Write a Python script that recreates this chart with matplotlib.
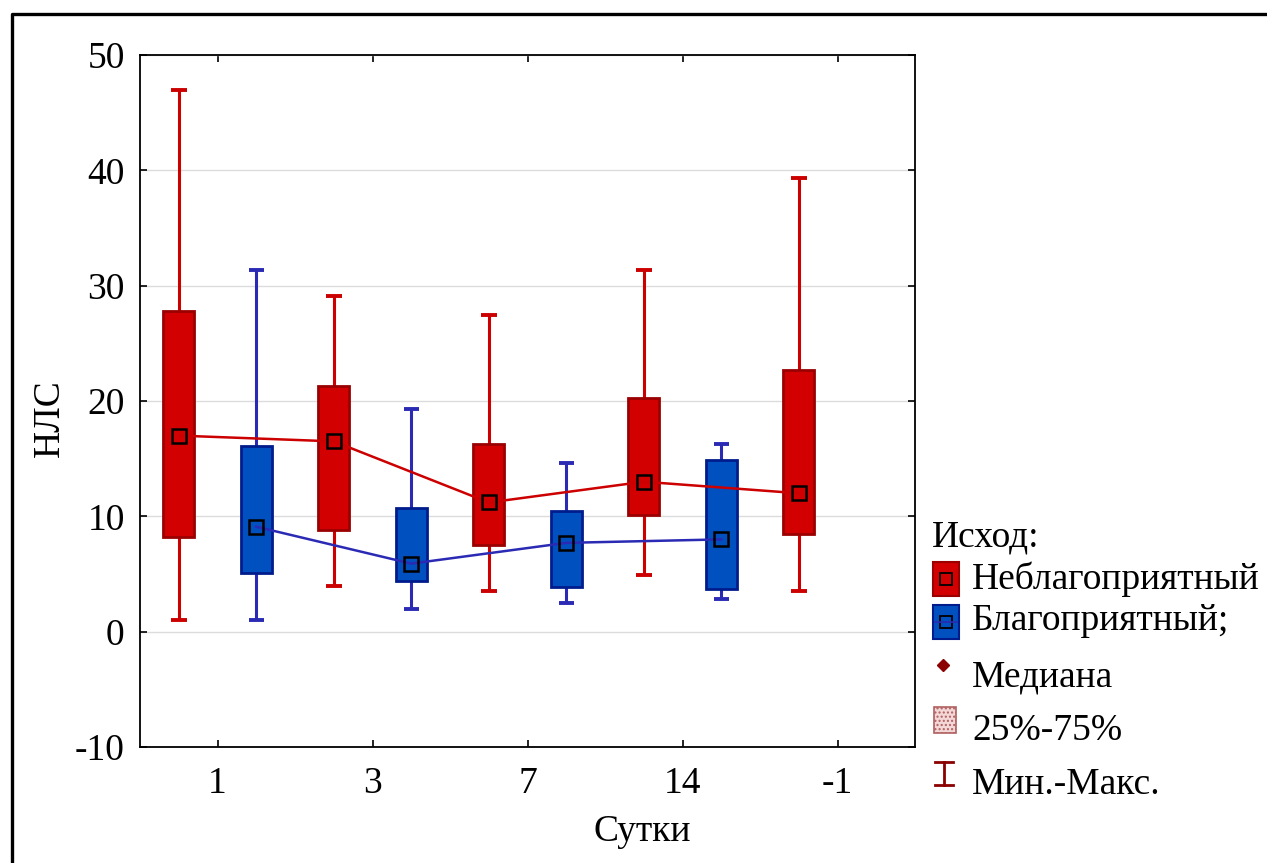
import matplotlib.pyplot as plt
from matplotlib.patches import Rectangle
from matplotlib.lines import Line2D
import numpy as np

plt.rcParams["font.family"] = ["Liberation Serif", "DejaVu Serif"]
plt.rcParams["axes.unicode_minus"] = False

days = ["1", "3", "7", "14", "-1"]

# Неблагоприятный (red)
bad_min = [1.0, 4.0, 3.5, 4.9, 3.5]
bad_q1 = [8.2, 8.8, 7.5, 10.1, 8.5]
bad_med = [17.0, 16.5, 11.2, 13.0, 12.0]
bad_q3 = [27.8, 21.3, 16.3, 20.3, 22.7]
bad_max = [47.0, 29.1, 27.5, 31.4, 39.3]

# Благоприятный (blue), no data for "-1"
good_min = [1.0, 2.0, 2.5, 2.8]
good_q1 = [5.1, 4.4, 3.9, 3.7]
good_med = [9.1, 5.9, 7.7, 8.0]
good_q3 = [16.1, 10.7, 10.5, 14.9]
good_max = [31.4, 19.3, 14.6, 16.3]

RED_FILL, RED_EDGE, RED_LINE = "#d20000", "#9a0000", "#cc0000"
BLUE_FILL, BLUE_EDGE, BLUE_LINE = "#0050c0", "#001c8c", "#2a2ab4"

fig = plt.figure(figsize=(12.67, 8.63), dpi=100)
ax = fig.add_axes([140 / 1267, 1 - 747 / 863, 775 / 1267, 692 / 863])


def draw_group(pos, lo, q1, med, q3, hi, fill, edge, line):
    pos = np.asarray(pos, dtype=float)
    ax.vlines(pos, lo, hi, color=line, lw=2.2, zorder=2)
    ax.hlines(lo, pos - 0.05, pos + 0.05, color=line, lw=2.8, zorder=2)
    ax.hlines(hi, pos - 0.05, pos + 0.05, color=line, lw=2.8, zorder=2)
    ax.bar(pos, np.subtract(q3, q1), bottom=q1, width=0.2, color=fill,
           edgecolor=edge, lw=2, zorder=3)
    ax.plot(pos, med, color=line, lw=1.8, zorder=4)
    ax.plot(pos, med, ls="none", marker="s", ms=10, mfc="none", mec="black",
            mew=1.8, zorder=5)


x = np.arange(len(days))
draw_group(x - 0.25, bad_min, bad_q1, bad_med, bad_q3, bad_max,
           RED_FILL, RED_EDGE, RED_LINE)
draw_group(x[:len(good_med)] + 0.25, good_min, good_q1, good_med, good_q3,
           good_max, BLUE_FILL, BLUE_EDGE, BLUE_LINE)

fs = 27
ax.set_xlim(-0.5, len(days) - 0.5)
ax.set_ylim(-10, 50)
ax.set_yticks(np.arange(-10, 51, 10))
ax.set_xticks(x)
ax.set_xticklabels(days)
ax.grid(axis="y", color="#dcdcdc", lw=1, zorder=0)
ax.set_axisbelow(True)
ax.tick_params(direction="in", length=5, width=1.2, labelsize=fs,
               top=True, right=True)
ax.tick_params(axis="y", pad=11)
ax.tick_params(axis="x", pad=14)
for s in ax.spines.values():
    s.set_linewidth(1.3)

# overlay in pixel coordinates for the frame, axis titles and legend
ov = fig.add_axes([0, 0, 1, 1])
ov.set_xlim(0, 1267)
ov.set_ylim(863, 0)
ov.axis("off")
ov.add_line(Line2D([12, 12, 1267], [863, 14, 14], color="black", lw=2.4))

ov.text(642, 832, "Сутки", fontsize=fs, va="center", ha="center")
ov.text(50, 418, "НЛС", fontsize=fs, va="center", ha="center", rotation=90)

ov.text(932, 537, "Исход:", fontsize=fs, va="center", ha="left")
ov.add_patch(Rectangle((933, 562), 26, 34, fc=RED_FILL, ec=RED_EDGE, lw=1.5))
ov.add_patch(Rectangle((940, 573), 12, 12, fc="none", ec="black", lw=1.3))
ov.text(972, 579, "Неблагоприятный", fontsize=fs, va="center", ha="left")
ov.add_patch(Rectangle((933, 605), 26, 34, fc=BLUE_FILL, ec=BLUE_EDGE, lw=1.5))
ov.add_line(Line2D([935, 957], [622, 622], color=BLUE_LINE, lw=1.2))
ov.add_patch(Rectangle((940, 616), 12, 12, fc="none", ec="black", lw=1.3))
ov.text(972, 621, "Благоприятный;", fontsize=fs, va="center", ha="left")
ov.plot([943], [665], marker="D", ms=6, color="#8b0000", ls="none")
ov.text(972, 677, "Медиана", fontsize=fs, va="center", ha="left")
ov.add_patch(Rectangle((934, 707), 22, 26, fc="#f4d8d8", ec="#b06060",
                       lw=1.2, hatch="....", zorder=2))
ov.text(972, 731, "25%-75%", fontsize=fs, va="center", ha="left")
ov.add_line(Line2D([944, 944], [762, 785], color="#8b0000", lw=2))
ov.add_line(Line2D([935, 953], [762, 762], color="#8b0000", lw=2))
ov.add_line(Line2D([935, 953], [785, 785], color="#8b0000", lw=2))
ov.text(972, 785, "Мин.-Макс.", fontsize=fs, va="center", ha="left")

fig.savefig("out.png", dpi=100)
